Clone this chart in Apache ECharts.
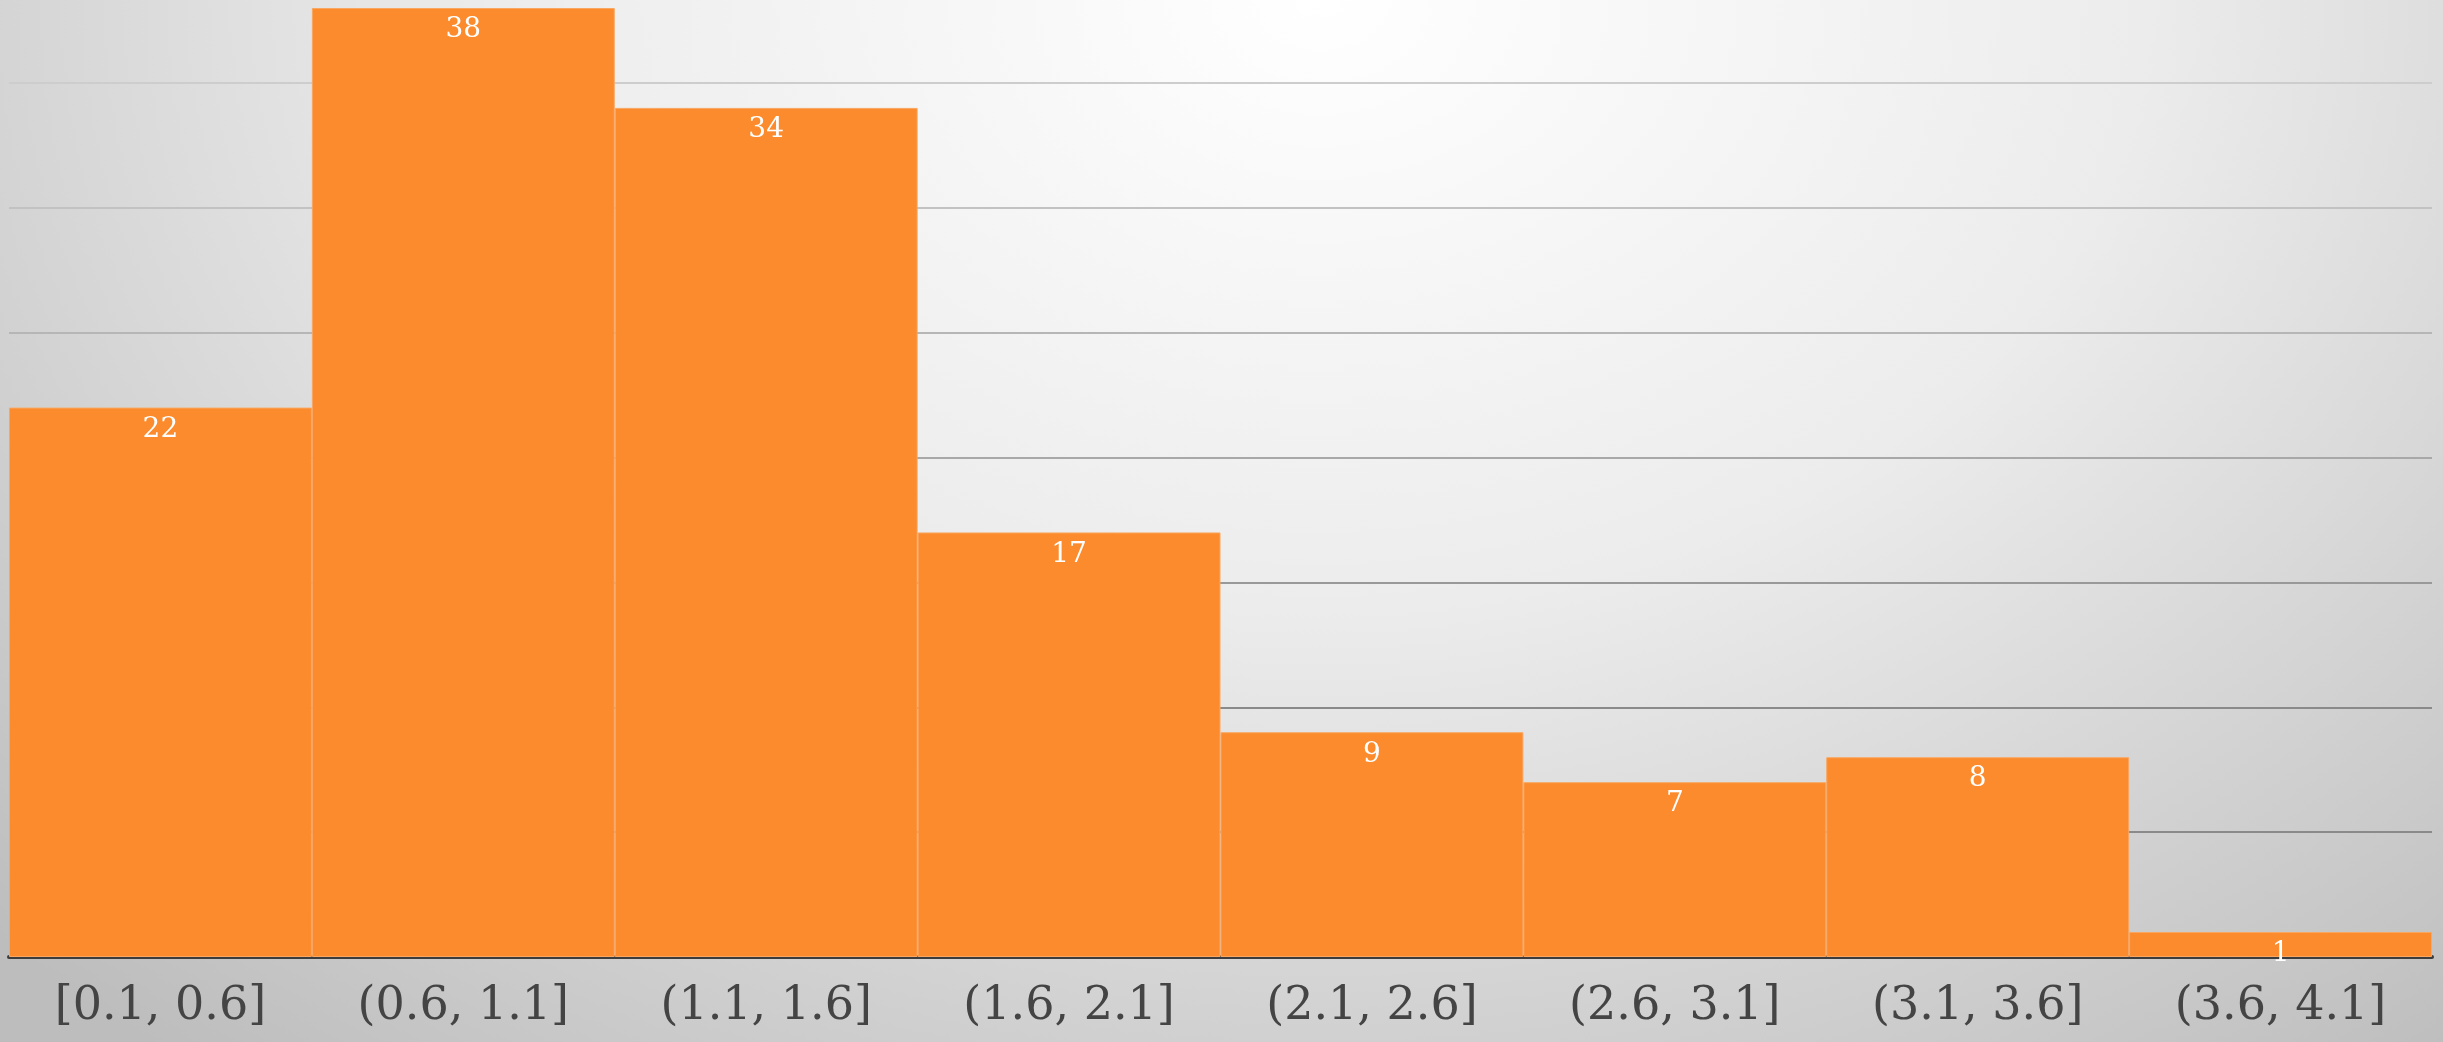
<!DOCTYPE html>
<html>
<head>
<meta charset="utf-8">
<script src="https://cdn.jsdelivr.net/npm/echarts@6/dist/echarts.min.js"></script>
<style>
  html, body { margin: 0; padding: 0; }
  #chart {
    width: 2443px;
    height: 1042px;
    background: radial-gradient(ellipse 75% 130% at 54% 0%, #ffffff 0%, #ececec 45%, #d2d2d2 75%, #bdbdbd 100%);
  }
</style>
</head>
<body>
<div id="chart"></div>
<script>
  // histogram bins and counts
  const bins = ['[0.1, 0.6]', '(0.6, 1.1]', '(1.1, 1.6]', '(1.6, 2.1]', '(2.1, 2.6]', '(2.6, 3.1]', '(3.1, 3.6]', '(3.6, 4.1]'];
  const counts = [22, 38, 34, 17, 9, 7, 8, 1];
  const yTicks = [0, 5, 10, 15, 20, 25, 30, 35];

  const chart = echarts.init(document.getElementById('chart'));
  chart.setOption({
    backgroundColor: 'transparent',
    animation: false,
    grid: { left: 9, right: 11, top: 8, bottom: 85 },
    xAxis: {
      type: 'category',
      data: bins,
      axisTick: { show: false },
      axisLine: { lineStyle: { color: '#3c3c3c', width: 4 } },
      axisLabel: {
        color: '#444',
        fontFamily: 'DejaVu Serif',
        fontSize: 46,
        margin: 27
      }
    },
    yAxis: {
      type: 'value',
      min: yTicks[0],
      max: 38,
      interval: yTicks[1] - yTicks[0],
      axisLabel: { show: false },
      axisLine: { show: false },
      axisTick: { show: false },
      splitLine: {
        showMinLine: false,
        showMaxLine: false,
        lineStyle: {
          width: 2,
          color: ['#8a8a8a', '#8a8a8a', '#999999', '#a8a8a8', '#b6b6b6', '#c2c2c2', '#cdcdcd', '#d6d6d6']
        }
      }
    },
    series: [{
      type: 'bar',
      data: counts,
      barCategoryGap: 0,
      itemStyle: { color: '#fb8b2c', borderColor: '#f9a660', borderWidth: 1 },
      label: {
        show: true,
        position: 'insideTop',
        distance: 8,
        color: '#fff',
        fontFamily: 'DejaVu Serif',
        fontSize: 28
      }
    }]
  });
</script>
</body>
</html>
